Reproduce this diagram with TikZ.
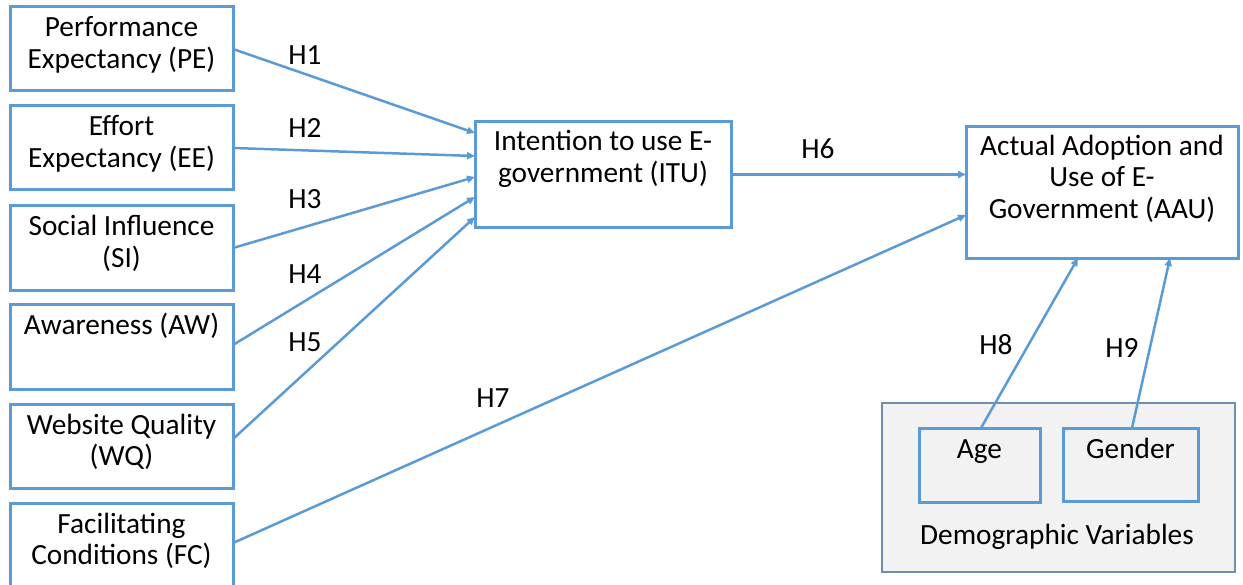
\documentclass[tikz,border=0pt]{standalone}
\usepackage{fontspec}
\setmainfont{Carlito}
\usetikzlibrary{arrows.meta}
\definecolor{lineblue}{HTML}{5B9BD5}
\definecolor{demoedge}{RGB}{112,142,180}
\definecolor{demofill}{HTML}{F2F2F2}
\begin{document}
\begin{tikzpicture}[x=1bp,y=-1bp,
  box/.style={draw=lineblue, line width=3bp, anchor=north west, inner sep=0pt, outer sep=0pt},
  txt/.style={anchor=base, align=center, inner sep=0pt, font=\fontsize{29.3bp}{31.5bp}\selectfont},
  hlab/.style={anchor=base, inner sep=0pt, font=\fontsize{29.3bp}{31.5bp}\selectfont},
  conn/.style={draw=lineblue, line width=2.5bp, -{Triangle[length=8bp,width=7bp]}}]
\clip (0,0) rectangle (1243,585);
\fill[white] (0,0) rectangle (1243,585);
% left boxes
\node[box, minimum width=223bp, minimum height=84bp] (pe) at (10,7) {};
\node[box, minimum width=223bp, minimum height=84bp] (ee) at (10,106) {};
\node[box, minimum width=223bp, minimum height=84bp] (si) at (10,206) {};
\node[box, minimum width=223bp, minimum height=84bp] (aw) at (10,305) {};
\node[box, minimum width=223bp, minimum height=84bp] (wq) at (10,404) {};
\node[box, minimum width=223bp, minimum height=90bp] (fc) at (10,503) {};
% middle and right boxes
\node[box, minimum width=256bp, minimum height=105bp] (itu) at (475,122) {};
\node[box, minimum width=272bp, minimum height=131bp] (aau) at (966,127) {};
\node[box, draw=demoedge, fill=demofill, line width=1.5bp, minimum width=353bp, minimum height=169bp] (demo) at (882,403) {};
\node[box, minimum width=121bp, minimum height=74bp] (age) at (919,428) {};
\node[box, minimum width=135bp, minimum height=73bp] (gender) at (1063,428) {};
% texts (anchor = baseline of the last line)
\node[txt] (tpe) at (121.5,68.5) {Performance\\Expectancy (PE)};
\node[txt] (tee) at (121.5,167.5) {Effort\\Expectancy (EE)};
\node[txt] (tsi) at (121.5,267.5) {Social Influence\\(SI)};
\node[txt] (taw) at (121.5,335) {Awareness (AW)};
\node[txt] (twq) at (121.5,465.5) {Website Quality\\(WQ)};
\node[txt] (tfc) at (121.5,564.5) {Facilitating\\Conditions (FC)};
\node[txt] (titu) at (603,182.5) {Intention to use E-\\government (ITU)};
\node[txt] (taau) at (1102,218.5) {Actual Adoption and\\Use of E-\\Government (AAU)};
\node[txt] (tage) at (979.5,458) {Age};
\node[txt] (tgender) at (1130.5,458) {Gender};
\node[txt] (tdemo) at (1057,544) {Demographic Variables};
% connectors
\draw[conn] (pe.east) -- ([yshift=41.5bp]itu.west);
\draw[conn] (ee.east) -- ([yshift=18.5bp]itu.west);
\draw[conn] (si.east) -- ([yshift=-2.5bp]itu.west);
\draw[conn] ([yshift=2bp]aw.east) -- ([yshift=-22.5bp]itu.west);
\draw[conn] ([yshift=7bp]wq.east) -- ([yshift=-42.5bp]itu.west);
\draw[conn] (itu.east) -- (itu.east -| aau.west);
\draw[conn] ([yshift=5bp]fc.east) -- ([yshift=-22.5bp]aau.west);
\draw[conn] ([xshift=1.5bp]age.north) -- ([xshift=-24bp]aau.south);
\draw[conn] ([xshift=1.5bp]gender.north) -- ([xshift=68bp]aau.south);
% hypothesis labels
\node[hlab] (h1) at (305,65) {H1};
\node[hlab] (h2) at (305,138) {H2};
\node[hlab] (h3) at (305,209) {H3};
\node[hlab] (h4) at (305,284) {H4};
\node[hlab] (h5) at (305,352) {H5};
\node[hlab] (h6) at (818,159) {H6};
\node[hlab] (h7) at (493,407) {H7};
\node[hlab] (h8) at (996,355) {H8};
\node[hlab] (h9) at (1122,358) {H9};
\end{tikzpicture}
\end{document}
